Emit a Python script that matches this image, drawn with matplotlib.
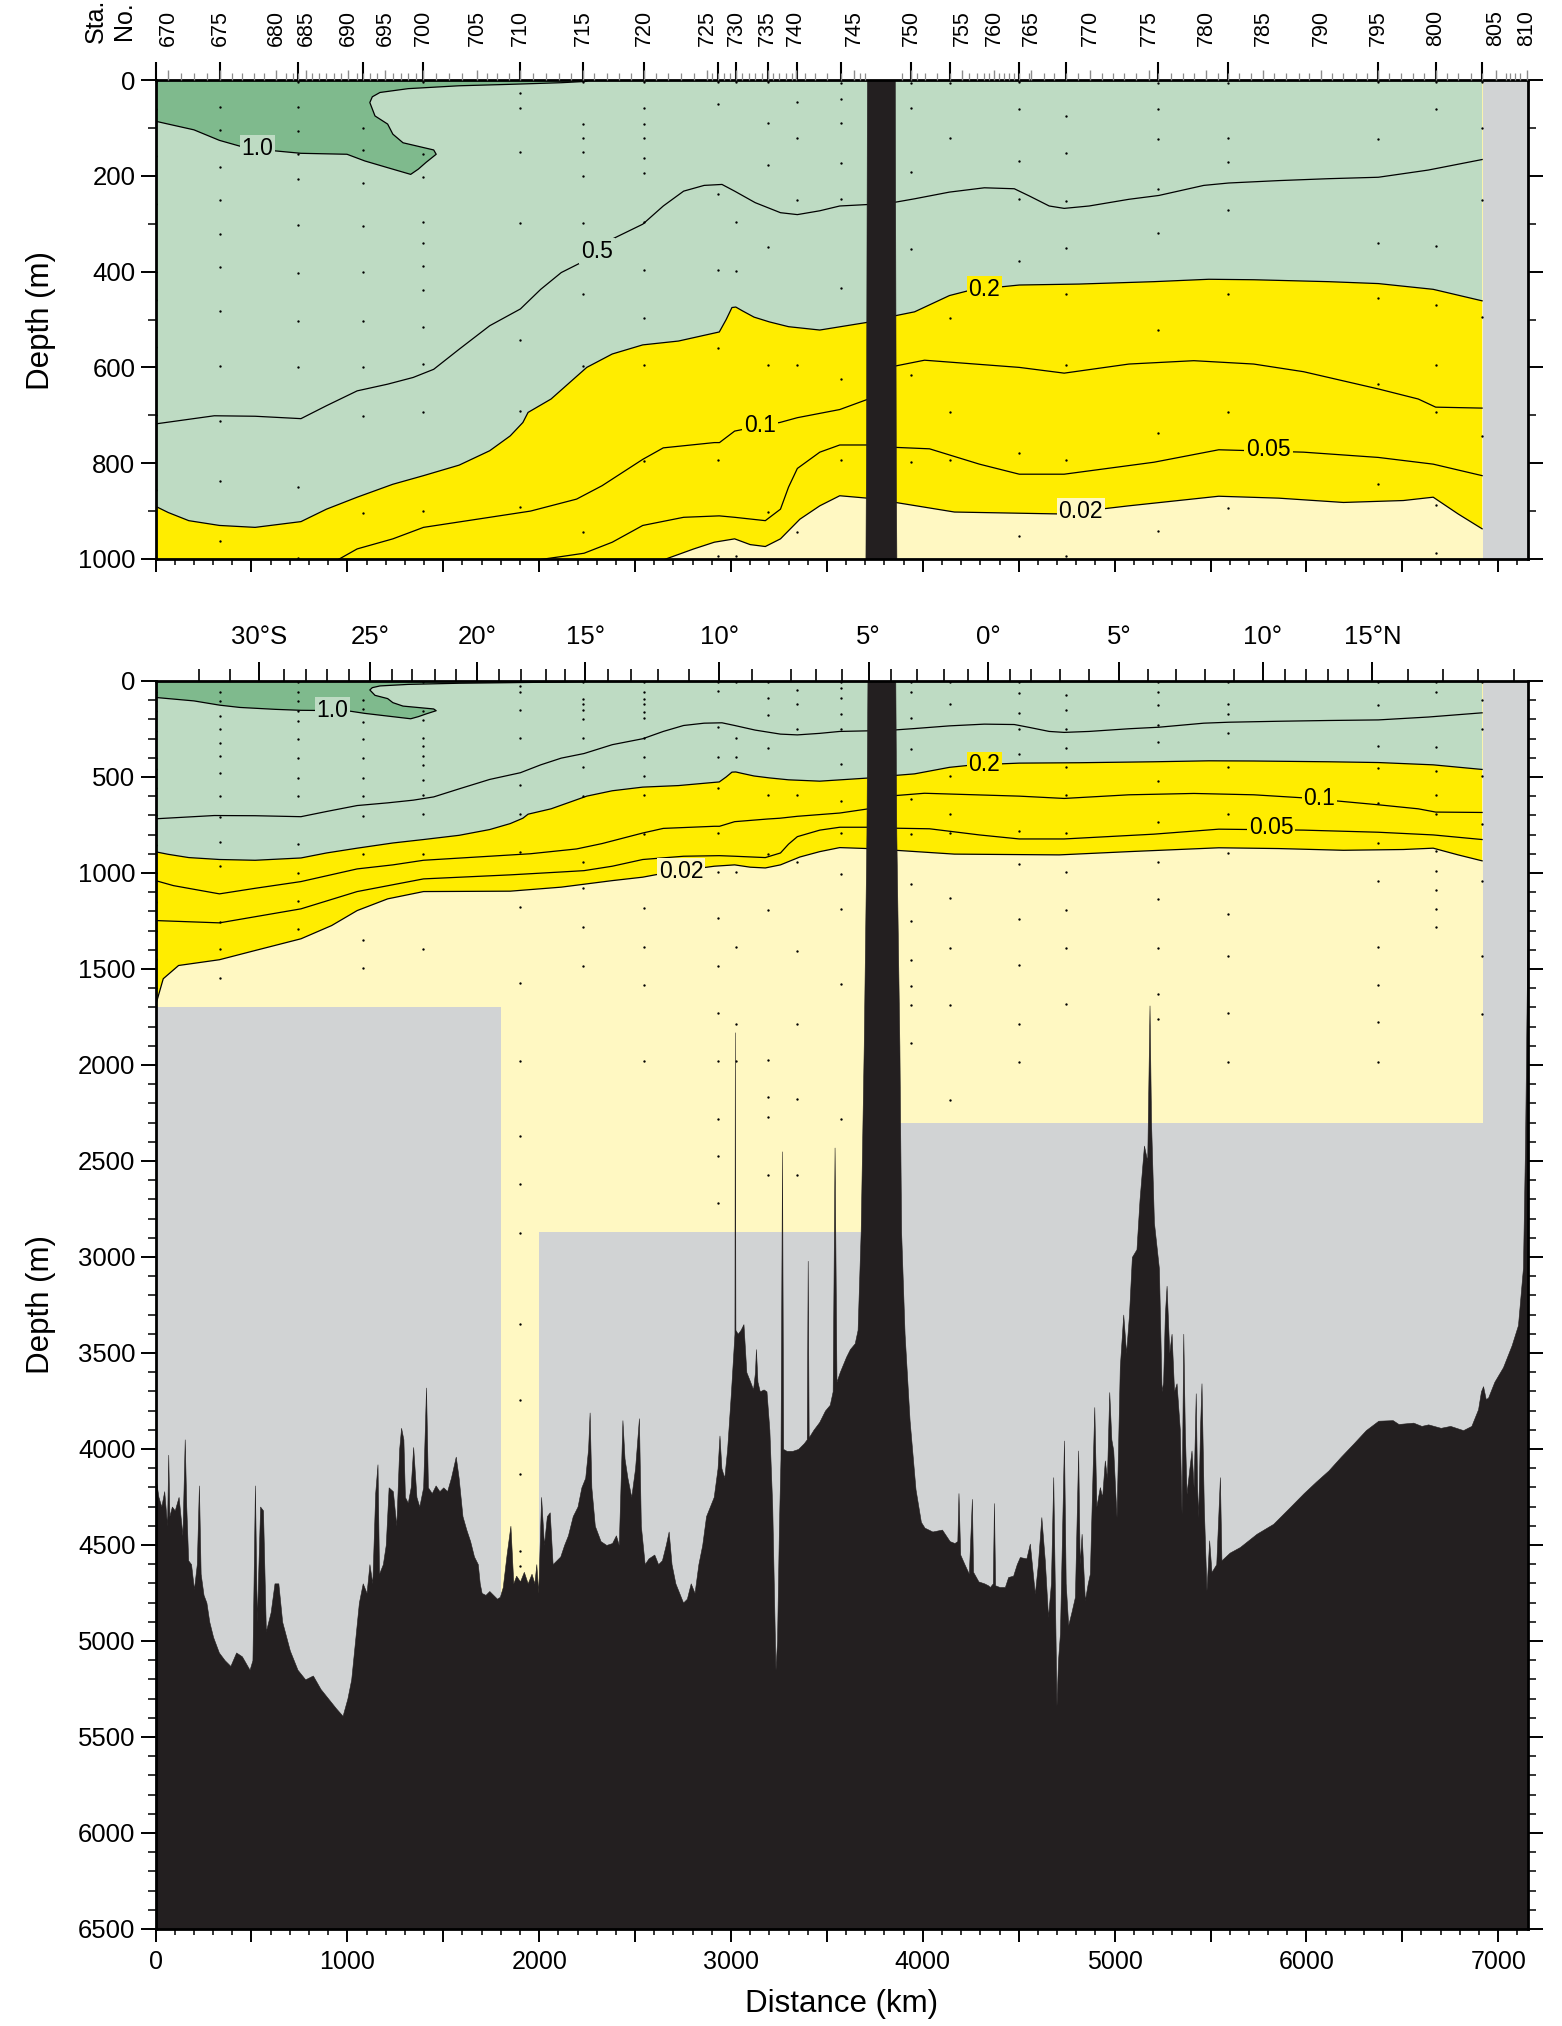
import numpy as np
import matplotlib
matplotlib.use("Agg")
import matplotlib.pyplot as plt
from matplotlib.ticker import MultipleLocator, FuncFormatter

plt.rcParams['font.family'] = ['Liberation Sans', 'DejaVu Sans']

DGREEN = '#7fba8d'
LGREEN = '#bedbc3'
YELLOW = '#ffed00'
PALE = '#fff8c2'
GRAY = '#d1d3d4'
BLACK = '#231f20'
XMAX = 7155

# ---- contour lines (distance km, depth m) ----
c10_km = [0, 66, 200, 333, 439, 625, 758, 998, 1091, 1210, 1330, 1370, 1410, 1463, 1450,
          1290, 1237, 1210, 1144, 1117, 1130, 1170, 1317, 1583, 1849, 2115, 2248, 2300]
c10_m = [86, 92, 104, 126, 138, 148, 153, 155, 169, 183, 197, 186, 172, 155, 146,
         131, 113, 92, 75, 47, 35, 26, 18, 12, 9, 5.6, 2.8, 0]

c05_km = [0, 306, 519, 758, 891, 1051, 1210, 1343, 1450, 1583, 1742, 1902, 2008, 2115, 2234,
          2381, 2540, 2647, 2753, 2860, 2953, 3019, 3126, 3258, 3346, 3463, 3567, 3710,
          3858, 3957, 4139, 4321, 4477, 4555, 4659, 4737, 4867, 5075, 5231, 5465, 5595,
          5855, 6115, 6375, 6635, 6916]
c05_m = [718, 701, 702, 707, 680, 649, 635, 621, 604, 562, 513, 478, 437, 402, 378,
         332, 301, 263, 232, 220, 218, 232, 256, 277, 281, 273, 263, 260,
         255, 248, 234, 225, 227, 242, 263, 268, 263, 249, 241, 220, 215,
         210, 206, 203, 188, 166]

c02_km = [0, 66, 173, 333, 519, 758, 891, 1051, 1237, 1397, 1583, 1742, 1849, 1915, 1942,
          2062, 2248, 2381, 2540, 2726, 2939, 2975, 3005, 3025, 3060, 3120, 3200, 3300,
          3463, 3710, 3858, 3957, 4139, 4256, 4503, 4815, 5205, 5491, 5725, 6115, 6375,
          6661, 6916]
c02_m = [890, 903, 920, 930, 934, 922, 896, 871, 844, 826, 804, 774, 743, 715, 694,
         666, 600, 572, 553, 545, 526, 500, 475, 474, 482, 495, 505, 515,
         522, 506, 492, 484, 450, 438, 428, 426, 421, 416, 417, 421, 425,
         437, 461]

c01_km = [0, 93, 333, 519, 758, 1051, 1237, 1397, 1742, 1955, 2195, 2328, 2540, 2647, 2913,
          2940, 3019, 3192, 3255, 3346, 3567, 3710, 3858, 4009, 4503, 4737, 5075, 5413,
          5725, 5985, 6375, 6583, 6674, 6916]
c01_m = [1040, 1066, 1109, 1080, 1045, 979, 958, 934, 913, 900, 875, 847, 792, 768, 757,
         757, 733, 719, 715, 705, 688, 667, 597, 585, 600, 612, 593, 586,
         593, 609, 645, 666, 683, 685]

c005_km = [0, 333, 758, 1051, 1397, 1849, 2115, 2234, 2381, 2540, 2753, 2939, 3019, 3179,
           3258, 3300, 3346, 3463, 3567, 3710, 3858, 4035, 4295, 4503, 4737, 5205, 5543,
           5985, 6375, 6661, 6916]
c005_m = [1248, 1260, 1187, 1097, 1031, 1010, 995, 988, 965, 930, 913, 910, 913, 920,
          896, 850, 811, 777, 762, 762, 767, 770, 802, 823, 823, 798, 772,
          777, 788, 802, 826]

c002_km = [0, 40, 120, 333, 519, 758, 918, 1051, 1210, 1397, 1849, 2115, 2381, 2540, 2647,
           2806, 2913, 3019, 3100, 3179, 3258, 3359, 3463, 3567, 3710, 3858, 4165, 4711,
           5075, 5543, 5855, 6193, 6505, 6661, 6791, 6916]
c002_m = [1690, 1551, 1482, 1452, 1404, 1343, 1274, 1196, 1135, 1097, 1095, 1074, 1040, 1022,
          1002, 979, 965, 958, 970, 974, 958, 917, 889, 868, 873, 882, 902, 906,
          889, 869, 873, 882, 878, 871, 906, 937]

# ---- extent of sampled water (x0, x1, deepest depth) ----
dom_x0 = [0, 1800, 2000, 3800]
dom_x1 = [1800, 2000, 3800, 6920]
dom_bot = [1700, 7000, 2870, 2300]

# ---- bottom topography ----
bathy_km = [0, 15, 30, 45, 60, 66, 72, 85, 100, 120,
            140, 152, 160, 170, 185, 200, 215, 226, 235, 250,
            265, 280, 300, 330, 360, 390, 420, 450, 490, 505,
            518, 528, 545, 560, 575, 600, 620, 640, 660, 700,
            740, 780, 820, 860, 900, 940, 975, 1000, 1020, 1040,
            1060, 1080, 1100, 1115, 1130, 1145, 1157, 1165, 1185, 1200,
            1215, 1237, 1255, 1270, 1280, 1292, 1300, 1315, 1330, 1343,
            1360, 1375, 1395, 1410, 1420, 1440, 1460, 1480, 1500, 1520,
            1540, 1565, 1580, 1600, 1620, 1640, 1660, 1680, 1690, 1700,
            1720, 1740, 1760, 1780, 1795, 1810, 1830, 1850, 1865, 1880,
            1900, 1920, 1940, 1960, 1975, 1985, 1995, 2010, 2025, 2040,
            2055, 2070, 2090, 2110, 2130, 2150, 2175, 2200, 2220, 2240,
            2255, 2263, 2272, 2290, 2320, 2350, 2380, 2400, 2415, 2434,
            2445, 2460, 2480, 2500, 2520, 2530, 2550, 2570, 2600, 2620,
            2640, 2660, 2675, 2690, 2710, 2730, 2750, 2770, 2790, 2810,
            2830, 2850, 2870, 2890, 2910, 2930, 2940, 2950, 2965, 2980,
            3000, 3012, 3018, 3020, 3023, 3035, 3050, 3065, 3080, 3100,
            3115, 3125, 3130, 3138, 3150, 3170, 3185, 3200, 3215, 3225,
            3232, 3240, 3250, 3258, 3266, 3272, 3290, 3320, 3350, 3380,
            3395, 3400, 3405, 3430, 3460, 3490, 3515, 3530, 3540, 3550,
            3567, 3600, 3620, 3645, 3660, 3676, 3692, 3706, 3712, 3856,
            3862, 3878, 3887, 3905, 3931, 3962, 3990, 4009, 4050, 4100,
            4140, 4165, 4180, 4186, 4195, 4217, 4240, 4256, 4262, 4290,
            4320, 4340, 4350, 4365, 4371, 4377, 4400, 4428, 4445, 4471,
            4490, 4506, 4540, 4558, 4584, 4600, 4618, 4636, 4653, 4668,
            4680, 4688, 4697, 4705, 4715, 4736, 4745, 4758, 4775, 4793,
            4810, 4818, 4828, 4845, 4860, 4871, 4894, 4905, 4923, 4935,
            4949, 4960, 4972, 4983, 4993, 5010, 5020, 5027, 5045, 5060,
            5075, 5090, 5114, 5130, 5153, 5170, 5182, 5190, 5205, 5231,
            5245, 5253, 5262, 5271, 5285, 5297, 5310, 5323, 5340, 5349,
            5358, 5366, 5375, 5390, 5401, 5412, 5423, 5430, 5436, 5445,
            5453, 5465, 5479, 5493, 5505, 5530, 5549, 5557, 5600, 5653,
            5740, 5827, 5914, 5985, 6050, 6115, 6180, 6245, 6310, 6375,
            6450, 6480, 6557, 6600, 6635, 6700, 6750, 6817, 6860, 6895,
            6910, 6921, 6935, 6947, 6980, 7025, 7070, 7103, 7129, 7140,
            7150, 7160]
bathy_m = [4150, 4250, 4300, 4220, 4400, 4030, 4350, 4300, 4320, 4250,
           4450, 3950, 4300, 4580, 4600, 4730, 4600, 4190, 4650, 4760,
           4800, 4900, 4980, 5060, 5100, 5130, 5060, 5080, 5150, 5100,
           4190, 4900, 4300, 4320, 4950, 4850, 4700, 4700, 4900, 5050,
           5150, 5200, 5180, 5250, 5300, 5350, 5390, 5300, 5200, 5000,
           4800, 4700, 4750, 4600, 4700, 4230, 4080, 4650, 4600, 4500,
           4200, 4220, 4400, 4000, 3890, 3950, 4250, 4280, 4200, 3990,
           4250, 4300, 4200, 3680, 4200, 4230, 4190, 4220, 4200, 4220,
           4150, 4040, 4150, 4350, 4420, 4480, 4560, 4600, 4700, 4750,
           4760, 4740, 4760, 4780, 4770, 4720, 4550, 4400, 4700, 4660,
           4690, 4640, 4700, 4650, 4700, 4600, 4750, 4250, 4500, 4350,
           4330, 4600, 4580, 4560, 4500, 4450, 4350, 4300, 4200, 4150,
           4000, 3810, 4200, 4400, 4480, 4500, 4490, 4450, 4500, 3850,
           4050, 4150, 4250, 4100, 3840, 4400, 4600, 4570, 4550, 4600,
           4580, 4500, 4430, 4600, 4700, 4750, 4800, 4780, 4700, 4750,
           4600, 4500, 4350, 4300, 4250, 4100, 3930, 4100, 4150, 4000,
           3700, 3500, 3400, 1830, 3380, 3400, 3380, 3350, 3600, 3650,
           3690, 3600, 3480, 3650, 3700, 3690, 3700, 3900, 4300, 4800,
           5150, 5000, 4400, 4050, 2450, 4000, 4010, 4010, 4000, 3970,
           3950, 3020, 3940, 3900, 3860, 3800, 3770, 3700, 2430, 3650,
           3600, 3520, 3480, 3450, 3380, 2870, 1900, 800, -100, -100,
           800, 1900, 2870, 3400, 3850, 4210, 4380, 4410, 4430, 4420,
           4480, 4490, 4480, 4230, 4550, 4600, 4650, 4260, 4640, 4690,
           4700, 4710, 4719, 4700, 4282, 4710, 4719, 4719, 4667, 4660,
           4600, 4563, 4570, 4493, 4754, 4600, 4355, 4580, 4875, 4700,
           4147, 4700, 5337, 5100, 4962, 3956, 4700, 4918, 4850, 4771,
           4008, 4600, 4442, 4789, 4700, 4650, 3782, 4300, 4199, 4250,
           4060, 4150, 3704, 3950, 4008, 4355, 3900, 3574, 3300, 3500,
           3300, 3000, 2960, 2700, 2420, 2500, 1690, 2300, 2820, 3060,
           3700, 3650, 3300, 3150, 3500, 3400, 3700, 3658, 3900, 4338,
           3400, 3900, 4234, 4100, 4008, 4200, 3710, 4200, 4355, 3900,
           3658, 4300, 4737, 4476, 4641, 4600, 4147, 4580, 4540, 4511,
           4442, 4390, 4303, 4231, 4170, 4112, 4040, 3972, 3902, 3853,
           3850, 3870, 3863, 3880, 3872, 3890, 3880, 3902, 3880, 3793,
           3700, 3673, 3740, 3733, 3650, 3574, 3460, 3355, 3056, 2400,
           1500, 1000]

# ---- sampled stations: distance and bottle depths ----
stn_km = [0, 338, 745, 1083, 1395, 1902, 2229, 2546, 2934, 3027, 3192, 3346, 3572, 3936,
          4144, 4503, 4745, 5226, 5590, 6375, 6674, 6916]
stn_depths = [
    [5, 60, 158, 259, 400, 460, 558, 700, 857, 1000, 1150, 1300, 1450, 1600],
    [56, 104, 182, 251, 321, 390, 482, 598, 711, 837, 962, 1253, 1395, 1548],
    [4, 56, 106, 154, 207, 303, 402, 503, 600, 849, 998, 1144, 1291],
    [101, 146, 214, 305, 400, 503, 600, 701, 903, 1347, 1496],
    [4, 154, 202, 296, 341, 389, 438, 515, 592, 694, 900, 1395],
    [28, 58, 150, 298, 542, 692, 891, 1178, 1574, 1980, 2369, 2618, 2877, 3350, 3743, 4131, 4530, 4610],
    [4, 92, 122, 150, 200, 298, 446, 597, 944, 1080, 1282, 1485],
    [4, 58, 92, 122, 162, 195, 296, 396, 496, 595, 796, 1184, 1386, 1582, 1980],
    [4, 51, 238, 396, 560, 793, 993, 1234, 1485, 1731, 1980, 2279, 2474, 2721],
    [4, 296, 398, 993, 1386, 1787, 1980],
    [4, 90, 178, 348, 595, 901, 1192, 1976, 2169, 2269, 2574],
    [46, 120, 250, 595, 943, 1404, 1787, 2175, 2574],
    [7, 39, 89, 174, 249, 435, 624, 793, 1005, 1187, 1581, 2279],
    [7, 58, 193, 352, 615, 798, 1057, 1251, 1452, 1589, 1687, 1886],
    [7, 120, 496, 694, 793, 1130, 1390, 1687, 2183],
    [4, 61, 169, 249, 378, 779, 953, 1239, 1482, 1785, 1984],
    [75, 152, 252, 350, 446, 595, 793, 993, 1192, 1392, 1681],
    [7, 60, 124, 227, 320, 522, 737, 941, 1138, 1390, 1633, 1761],
    [7, 122, 171, 271, 446, 694, 894, 1213, 1430, 1731, 1984],
    [4, 124, 341, 455, 634, 844, 1040, 1386, 1586, 1777, 1984],
    [4, 60, 346, 470, 595, 694, 887, 988, 1087, 1187, 1282],
    [4, 101, 250, 494, 744, 1040, 1435, 1735],
]

# ---- station number axis ----
sta_lab_num = list(range(670, 811, 5))
sta_lab_km = [66, 336, 628, 784, 1003, 1196, 1394, 1676, 1900, 2228, 2547, 2875, 3026, 3192,
              3338, 3641, 3938, 4204, 4371, 4564, 4872, 5180, 5477, 5774, 6077, 6374, 6676,
              6988, 7150]
sta_minor_km = [133, 200, 266, 399, 452, 511, 567, 678, 718, 745, 817, 851, 891, 931, 966,
                1051, 1083, 1117, 1157, 1237, 1277, 1317, 1357, 1463, 1530, 1596, 1729, 1782,
                1843, 1968, 2035, 2101, 2168, 2288, 2354, 2415, 2479, 2607, 2673, 2740, 2806,
                2899, 2934, 2961, 2993, 3059, 3094, 3126, 3160, 3219, 3251, 3286, 3320, 3385,
                3437, 3502, 3572, 3671, 3697, 3892, 3970, 4009, 4074, 4144, 4243, 4282, 4321,
                4347, 4399, 4425, 4451, 4477, 4503, 4555, 4633, 4685, 4745, 4807, 4932, 4992,
                5049, 5109, 5226, 5296, 5356, 5413, 5538, 5590, 5647, 5712, 5829, 5894, 5959,
                6016, 6136, 6193, 6258, 6318, 6432, 6492, 6557, 6614, 6734, 6791, 6856, 6916,
                7038, 7064, 7090, 7116]

# ---- latitude axis ----
lat_lab = ['30°S', '25°', '20°', '15°', '10°', '5°', '0°', '5°', '10°', '15°N']
lat_lab_km = [540, 1117, 1676, 2240, 2939, 3718, 4342, 5023, 5772, 6344]
lat_minor_km = [226, 386, 670, 785, 896, 1011, 1232, 1338, 1455, 1564, 1790, 1907, 2035,
                2133, 2360, 2480, 2620, 2780, 3112, 3312, 3445, 3580, 3832, 3970, 4113, 4238,
                4456, 4563, 4716, 4867, 5174, 5322, 5470, 5621, 5886, 5998, 6110, 6219, 6531,
                6713, 6895, 7082]


def closed(km, m):
    # close a contour against the sea surface so it can be filled
    return [km[0]] + list(km) + [km[-1]], [-50] + list(m) + [-50]


def draw_section(ax, labels):
    ax.set_facecolor(GRAY)
    for x0, x1, zb in zip(dom_x0, dom_x1, dom_bot):
        ax.fill_between([x0, x1], -50, zb, color=PALE, lw=0)
    ax.fill(*closed(c002_km, c002_m), color=YELLOW, lw=0)
    ax.fill(*closed(c02_km, c02_m), color=LGREEN, lw=0)
    ax.fill(*closed(c10_km, c10_m), color=DGREEN, lw=0)
    for km, m in [(c10_km[:-1], c10_m[:-1]), (c05_km, c05_m), (c02_km, c02_m),
                  (c01_km, c01_m), (c005_km, c005_m), (c002_km, c002_m)]:
        ax.plot(km, m, color='k', lw=0.9, zorder=2)
    for x, deps in zip(stn_km, stn_depths):
        ax.plot([x] * len(deps), deps, 'o', color='k', ms=1.7, mew=0, zorder=2)
    for txt, x, y, bg in labels:
        ax.text(x, y, txt, fontsize=16.5, ha='center', va='center', zorder=4,
                bbox=dict(boxstyle='square,pad=0.08', fc=bg, ec='none'))
    ax.fill_between(bathy_km, bathy_m, 7000, color=BLACK, lw=0.4, edgecolor=BLACK, zorder=3)
    ax.set_xlim(0, XMAX)
    for s in ax.spines.values():
        s.set_linewidth(2.0)
        s.set_zorder(5)
    ax.xaxis.set_major_locator(MultipleLocator(500))
    ax.xaxis.set_minor_locator(MultipleLocator(100))
    ax.tick_params(axis='x', which='major', direction='out', length=9.5, width=1.4, labelsize=18, pad=6)
    ax.tick_params(axis='x', which='minor', direction='out', length=4.5, width=1.1)
    ax.tick_params(axis='y', which='major', direction='out', length=10.5, width=1.4,
                   labelsize=18.5, pad=4, right=True)
    ax.tick_params(axis='y', which='minor', direction='out', length=5.5, width=1.1, right=True)


fig = plt.figure(figsize=(15.62, 20.26), dpi=100)
ax1 = fig.add_axes([0.0996, 0.7241, 0.8786, 0.2364])
ax2 = fig.add_axes([0.0996, 0.0479, 0.8786, 0.6160])

draw_section(ax1, [('1.0', 532, 143, LGREEN), ('0.5', 2300, 357, LGREEN),
                   ('0.2', 4321, 437, YELLOW), ('0.1', 3152, 722, YELLOW),
                   ('0.05', 5803, 772, YELLOW), ('0.02', 4823, 900, PALE)])
draw_section(ax2, [('1.0', 923, 152, LGREEN), ('0.2', 4321, 437, YELLOW),
                   ('0.1', 6068, 610, YELLOW), ('0.05', 5816, 762, YELLOW),
                   ('0.02', 2740, 993, PALE)])

ax1.set_ylim(1000, 0)
ax1.yaxis.set_major_locator(MultipleLocator(200))
ax1.yaxis.set_minor_locator(MultipleLocator(100))
ax1.set_xticklabels([])

ax2.set_ylim(6500, 0)
ax2.yaxis.set_major_locator(MultipleLocator(500))
ax2.yaxis.set_minor_locator(MultipleLocator(100))
ax2.xaxis.set_major_formatter(FuncFormatter(lambda v, p: f'{int(v)}' if v % 1000 == 0 else ''))

# station numbers along the top of the upper panel
ax1t = ax1.twiny()
ax1t.set_xlim(0, XMAX)
ax1t.set_xticks(sta_lab_km)
ax1t.set_xticklabels([str(n) for n in sta_lab_num], rotation=90, fontsize=15.5,
                     family=['Liberation Sans Narrow', 'Liberation Sans'])
ax1t.set_xticks(sta_minor_km, minor=True)
ax1t.tick_params(axis='x', which='major', direction='out', length=7.5, width=1.0,
                 color='#8c8c8c', pad=17)
ax1t.tick_params(axis='x', which='minor', direction='out', length=5, width=0.9, color='#8c8c8c')
for s in ax1t.spines.values():
    s.set_visible(False)
ax1.vlines(stn_km, 1.0, 1.0 + 18 / 479, transform=ax1.get_xaxis_transform(),
           colors='k', lw=1.5, clip_on=False)

# latitude along the top of the lower panel
ax2t = ax2.twiny()
ax2t.set_xlim(0, XMAX)
ax2t.set_xticks(lat_lab_km)
ax2t.set_xticklabels(lat_lab, fontsize=18.5)
ax2t.set_xticks(lat_minor_km, minor=True)
ax2t.tick_params(axis='x', which='major', direction='out', length=14, width=1.4, pad=9)
ax2t.tick_params(axis='x', which='minor', direction='out', length=8.5, width=1.2)
for s in ax2t.spines.values():
    s.set_visible(False)

fig.text(0.0704, 0.9788, 'Sta.\nNo.', rotation=90, ha='center', va='bottom', fontsize=18,
         linespacing=1.25)
fig.text(0.026, 0.842, 'Depth (m)', rotation=90, ha='center', va='center', fontsize=22.5)
fig.text(0.026, 0.356, 'Depth (m)', rotation=90, ha='center', va='center', fontsize=22.5)
fig.text(0.5387, 0.0109, 'Distance (km)', ha='center', va='center', fontsize=22.5)

fig.savefig('out.png', dpi=100)
